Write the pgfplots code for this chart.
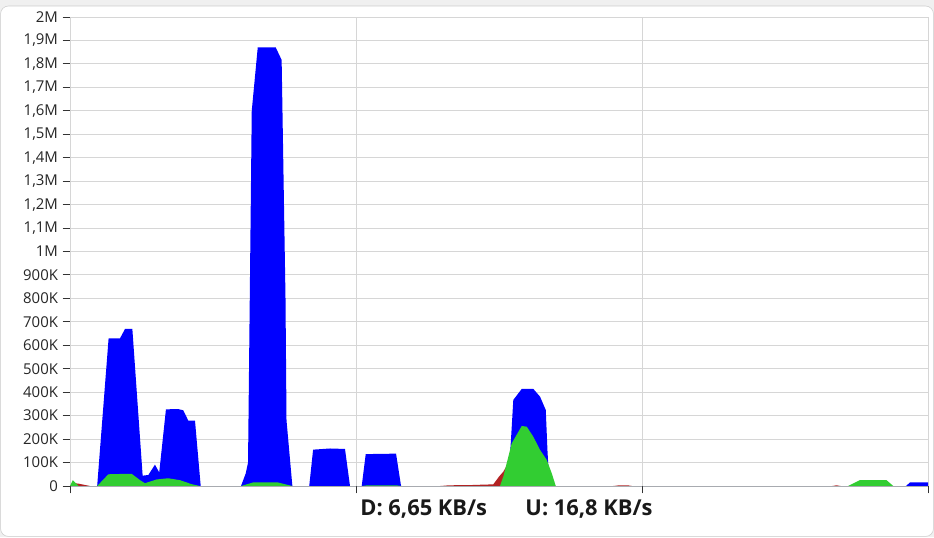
\documentclass[border=0pt]{standalone}
\usepackage{fontspec}
\setmainfont{Open Sans}
\usepackage{pgfplots}
\pgfplotsset{compat=1.18}
\definecolor{dlblue}{RGB}{0,0,255}
\definecolor{upgreen}{RGB}{50,205,50}
\definecolor{xred}{RGB}{178,34,34}
\definecolor{gridgray}{RGB}{214,214,214}
\begin{document}
\begin{tikzpicture}
\useasboundingbox (0,0) rectangle (700.5pt,402.75pt);
\fill[black!6] (0,0) rectangle (700.5pt,402.75pt);
\fill[white, draw=black!20, rounded corners=6pt] (0.4pt,0.4pt) rectangle (700.1pt,398.25pt);
\begin{axis}[
  at={(52.5pt,38.25pt)}, anchor=south west,
  scale only axis, width=643.5pt, height=351.75pt,
  xmin=0, xmax=60, ymin=0, ymax=2000,
  xtick={0,20,40,60}, xticklabels={},
  ytick={0,100,...,2000},
  yticklabels={0,100K,200K,300K,400K,500K,600K,700K,800K,900K,1M,1{,}1M,1{,}2M,1{,}3M,1{,}4M,1{,}5M,1{,}6M,1{,}7M,1{,}8M,1{,}9M,2M},
  tick align=outside, major tick length=5.5pt,
  tick style={black!80, line width=0.75pt},
  xtick pos=bottom, ytick pos=left,
  axis line style={draw=none},
  grid=major, grid style={gridgray, line width=0.75pt},
  tick label style={font=\fontsize{11.2}{13}\selectfont, text=black!85},
  /pgf/number format/assume math mode=true,
]
% download
\addplot[draw=none, fill=dlblue] coordinates {
  (0,0) (1.9,0) (2.7,630) (3.5,630) (3.85,670) (4.36,670) (5.08,44) (5.48,47)
  (5.94,91) (6.24,58) (6.71,327) (7.57,328) (7.92,323) (8.27,279) (8.74,279)
  (9.14,0) (11.96,0) (12.29,54) (12.45,100) (12.71,1600) (13.13,1871)
  (14.38,1871) (14.80,1817) (15.07,800) (15.14,280) (15.55,0)
  (16.73,0) (17.0,155) (18.18,160) (19.23,158) (19.58,0)
  (20.4,0) (20.68,136) (22.8,138) (23.15,0)
  (30.63,0) (30.84,200) (31.0,367) (31.59,414) (32.4,414) (32.87,381)
  (33.27,324) (33.39,150) (33.53,0)
  (58.46,0) (58.74,15) (60,15)
} \closedcycle;
% other
\addplot[draw=none, fill=xred] coordinates {
  (0,0) (0.3,12) (0.6,10) (1.4,0)
  (25.9,0) (26.5,3) (28,4) (29,6) (29.6,7) (30.0,40) (30.3,61) (30.9,125)
  (31.2,140) (31.6,150) (32.0,100) (33.0,30) (33.5,0)
  (38.0,0) (38.4,3) (39.0,3) (39.3,0)
  (53.3,0) (53.6,3) (53.9,0) (60,0)
} \closedcycle;
% upload
\addplot[draw=none, fill=upgreen] coordinates {
  (0,0) (0.2,25) (0.6,0)
  (1.9,0) (2.68,50) (3.96,52) (4.31,52) (4.9,25) (5.24,12) (6.06,28)
  (6.87,33) (7.69,25) (8.5,8) (9.09,0)
  (11.96,0) (12.85,16) (14.48,16) (15.55,0)
  (20.4,0) (20.8,3) (22.8,3) (23.2,0)
  (30.07,0) (30.3,40) (30.89,182) (31.59,256) (31.94,253) (32.4,210)
  (32.87,154) (33.34,111) (33.69,54) (33.97,0)
  (54.41,0) (55.24,25) (57.1,25) (57.57,0) (60,0)
} \closedcycle;
\end{axis}
\node[font=\bfseries\fontsize{16.4}{19}\selectfont, text=black!90] at (317.8pt,21pt) {D: 6,65 KB/s};
\node[font=\bfseries\fontsize{16.4}{19}\selectfont, text=black!90] at (441.75pt,21pt) {U: 16,8 KB/s};
\end{tikzpicture}
\end{document}
